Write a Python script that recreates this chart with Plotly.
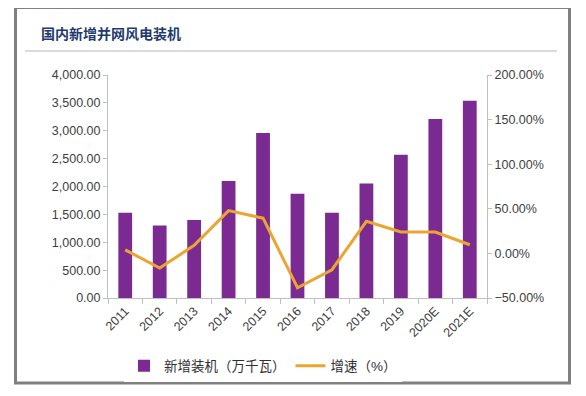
import plotly.graph_objects as go

years = ["2011", "2012", "2013", "2014", "2015", "2016", "2017", "2018", "2019", "2020E", "2021E"]
capacity = [1530, 1300, 1400, 2100, 2960, 1870, 1530, 2055, 2570, 3210, 3540]
growth = [4.0, -16.5, 9.0, 48.0, 39.5, -38.5, -18.3, 36.0, 24.0, 24.0, 9.7]

OFF = 8  # page body margin
W, H = 586 - OFF, 396 - OFF
L, R, T, B = 108 - OFF, 487 - OFF, 75 - OFF, 298 - OFF

def px(x):
    return (x - OFF - L) / (R - L)

def py(y):
    return (B - (y - OFF)) / (B - T)

font_family = "Liberation Sans, Arial, Noto Sans CJK SC, sans-serif"
axis_color = "#bfbfbf"
text_color = "#404040"

fig = go.Figure()
fig.add_trace(go.Bar(
    x=years, y=capacity, name="新增装机（万千瓦）",
    marker=dict(color="#7B2A92", line=dict(width=0)),
    width=0.4, yaxis="y",
))
fig.add_trace(go.Scatter(
    x=years, y=growth, name="增速（%）", mode="lines",
    line=dict(color="#EBA530", width=3), yaxis="y2",
))

fig.update_layout(
    width=W, height=H,
    margin=dict(l=L, r=W - R, t=T, b=H - B, autoexpand=False),
    paper_bgcolor="white", plot_bgcolor="white",
    font=dict(family=font_family, size=12, color=text_color),
    showlegend=True,
    legend=dict(orientation="h", x=px(124), xanchor="left", y=py(366), yanchor="middle",
                font=dict(size=13.5, color="#303030"), itemwidth=30, traceorder="normal"),
    bargap=0.6,
    xaxis=dict(
        type="category", tickangle=-45, showgrid=False, showline=True,
        linecolor=axis_color, linewidth=1, ticks="outside", ticklen=5,
        tickcolor=axis_color, tickson="boundaries", automargin=False,
        tickfont=dict(size=12.5, color=text_color), zeroline=False,
    ),
    yaxis=dict(
        range=[0, 4000], dtick=500, tickformat=",.2f", showgrid=False,
        showline=True, linecolor=axis_color, linewidth=1, ticks="outside",
        ticklen=4, tickcolor=axis_color, zeroline=False, automargin=False,
        tickfont=dict(size=12.5, color=text_color),
    ),
    yaxis2=dict(
        range=[-50, 200], dtick=50, overlaying="y", side="right",
        ticksuffix="%", tickformat=".2f", showgrid=False, showline=True,
        linecolor=axis_color, linewidth=1, ticks="outside", ticklen=4,
        tickcolor=axis_color, zeroline=False, automargin=False,
        tickfont=dict(size=12.5, color=text_color),
    ),
)

# outer frame
fig.add_shape(type="rect", xref="paper", yref="paper",
              x0=px(15.5), x1=px(569.5), y0=py(7.5), y1=py(383),
              line=dict(color="#808080", width=3), layer="below")
# title underline
fig.add_shape(type="line", xref="paper", yref="paper",
              x0=px(25), x1=px(557), y0=py(51), y1=py(51),
              line=dict(color="#cfcfcf", width=1.5))
fig.add_annotation(text="<b>国内新增并网风电装机</b>", xref="paper", yref="paper",
                   x=px(39), y=py(33), xanchor="left", yanchor="middle",
                   showarrow=False,
                   font=dict(size=14, color="#1F3A6E",
                             family="Noto Sans CJK SC, sans-serif"))

fig.write_html("out.html")
